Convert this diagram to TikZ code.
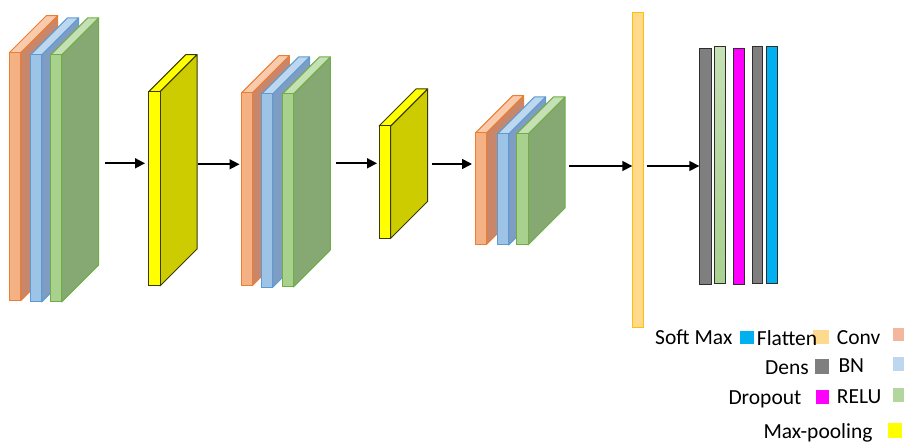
\documentclass[tikz,border=0pt]{standalone}
\usepackage{fontspec}
\setmainfont{Carlito}
\usetikzlibrary{arrows.meta}
\definecolor{orF}{HTML}{F4B183}
\definecolor{orT}{HTML}{F8CBAD}
\definecolor{orS}{HTML}{C8866A}
\definecolor{orB}{HTML}{ED7D31}
\definecolor{blF}{HTML}{9DC3E6}
\definecolor{blT}{HTML}{BDD7EE}
\definecolor{blS}{HTML}{7F9DC2}
\definecolor{blB}{HTML}{5B9BD5}
\definecolor{grF}{HTML}{A9D18E}
\definecolor{grT}{HTML}{C5E0B4}
\definecolor{grS}{HTML}{86A872}
\definecolor{grSt}{HTML}{90A882}
\definecolor{grSb}{HTML}{7CA566}
\definecolor{grB}{HTML}{70AD47}
\definecolor{yeF}{HTML}{FFFF00}
\definecolor{yeS}{HTML}{CCCC00}
\definecolor{yeB}{HTML}{3A3A00}
\definecolor{flF}{HTML}{FFD98E}
\definecolor{flB}{HTML}{FFC000}
\definecolor{dnF}{HTML}{7F7F7F}
\definecolor{mgF}{HTML}{FF00FF}
\definecolor{cyF}{HTML}{00B0F0}
\definecolor{lgOr}{HTML}{F4B69C}
\definecolor{lgBl}{HTML}{BDD7EE}
\definecolor{lgGr}{HTML}{B3D59E}
\definecolor{barB}{HTML}{2E2E2E}
% #1 x1, #2 ytop, #3 x2, #4 ybottom, #5 front, #6 top, #7 side, #8 border
\newcommand\myslab[8]{%
  \filldraw[draw=#8, fill=#7, line width=1pt, line join=round]
    (#3,#2) -- ({#3+37},{#2-37}) -- ({#3+37},{#4-37}) -- (#3,#4) -- cycle;
  \filldraw[draw=#8, fill=#6, line width=1pt, line join=round]
    (#1,#2) -- ({#1+37},{#2-37}) -- ({#3+37},{#2-37}) -- (#3,#2) -- cycle;
  \filldraw[draw=#8, fill=#5, line width=1pt] (#1,#2) rectangle (#3,#4);
}
\tikzset{
  flow/.style={line width=1.6pt, -{Triangle[length=10pt,width=10pt]}},
  bar/.style={draw=barB, line width=1pt},
  lgsq/.style={draw=none},
  lgtext/.style={anchor=base west, inner sep=0pt, font=\fontsize{21.5}{24}\selectfont, text=black}
}
\begin{document}
\begin{tikzpicture}[x=1pt,y=-1pt]
\useasboundingbox (0,0) rectangle (904,443);
% block 1
\myslab{9.3}{52.7}{20.7}{300.7}{orF}{orT}{orS}{orB}
\myslab{30.3}{55}{41.7}{302}{blF}{blT}{blS}{blB}
\myslab{50.7}{55}{61.7}{302}{grF}{grT}{grS}{grB}
% pool 1
\myslab{148.7}{91.7}{160}{286}{yeF}{yeF}{yeS}{yeB}
% block 2
\myslab{241.7}{92.7}{252.3}{285.7}{orF}{orT}{orS}{orB}
\myslab{261.7}{94}{272.7}{287.3}{blF}{blT}{blS}{blB}
\myslab{282.3}{94}{293.3}{287}{grF}{grT}{grS}{grB}
% pool 2
\myslab{379}{126}{390.7}{238.3}{yeF}{yeF}{yeS}{yeB}
% block 3
\myslab{475.7}{132.7}{486.7}{244.3}{orF}{orT}{orS}{orB}
\myslab{497.3}{134}{508.7}{245}{blF}{blT}{blS}{blB}
\myslab{516.3}{134}{528}{245}{grF}{grT}{grS}{grB}
% flatten
\node[draw=flB, line width=1pt, fill=flF, inner sep=0pt, minimum width=10.4pt, minimum height=315pt, anchor=north west] (flat) at (632.3,11.7) {};
% dense stack
\node[bar, fill=dnF, inner sep=0pt, minimum width=11.4pt, minimum height=236.6pt, anchor=north west] (d1) at (699.3,47.7) {};
\node[bar, top color=grT, bottom color=grF, inner sep=0pt, minimum width=11pt, minimum height=237pt, anchor=north west] (d2) at (714.3,46.3) {};
\node[bar, fill=mgF, inner sep=0pt, minimum width=10.4pt, minimum height=236.6pt, anchor=north west] (d3) at (733.3,47.7) {};
\node[bar, fill=dnF, inner sep=0pt, minimum width=10.6pt, minimum height=237pt, anchor=north west] (d4) at (751.7,46.3) {};
\node[bar, fill=cyF, inner sep=0pt, minimum width=10.7pt, minimum height=237pt, anchor=north west] (d5) at (766.3,46.3) {};
% arrow endpoints
\coordinate (a1s) at (105,163.3);   \coordinate (a1e) at (145,163.3);
\coordinate (a2s) at (198.3,164.3); \coordinate (a2e) at (239.5,164.3);
\coordinate (a3s) at (336,163.3);   \coordinate (a3e) at (377,163.3);
\coordinate (a4s) at (431.7,164);   \coordinate (a4e) at (472,164);
\coordinate (a5s) at (569.3,166);
\coordinate (a6s) at (646.7,166);
\draw[flow] (a1s) -- (a1e);
\draw[flow] (a2s) -- (a2e);
\draw[flow] (a3s) -- (a3e);
\draw[flow] (a4s) -- (a4e);
\draw[flow] (a5s) -- (a5s -| flat.west);
\draw[flow] (a6s) -- (a6s -| d1.west);
% legend squares
\fill[cyF] (740,330.7) rectangle (754,344.3);
\fill[flF] (813.3,330) rectangle (829.3,344.3);
\fill[lgOr] (893.3,328.3) rectangle (904,341);
\fill[dnF] (815,359.3) rectangle (829.3,374);
\fill[lgBl] (893.3,356.7) rectangle (904,371);
\fill[mgF] (815.7,390) rectangle (829.3,404.3);
\fill[lgGr] (893.3,387.7) rectangle (904,401.7);
\fill[yeF] (887.7,423.3) rectangle (901.7,437.7);
% legend text
\node[lgtext] (tSM) at (655,344.3) {Soft Max};
\node[lgtext] (tFl) at (756.7,345.5) {Flatten};
\node[lgtext] (tCo) at (836.7,344.3) {Conv};
\node[lgtext] (tDe) at (765,374.3) {Dens};
\node[lgtext] (tBN) at (838.3,372.3) {BN};
\node[lgtext] (tDr) at (728.3,404) {Dropout};
\node[lgtext] (tRe) at (836.7,403.3) {RELU};
\node[lgtext] (tMP) at (763.3,438) {Max-pooling};
\end{tikzpicture}
\end{document}
